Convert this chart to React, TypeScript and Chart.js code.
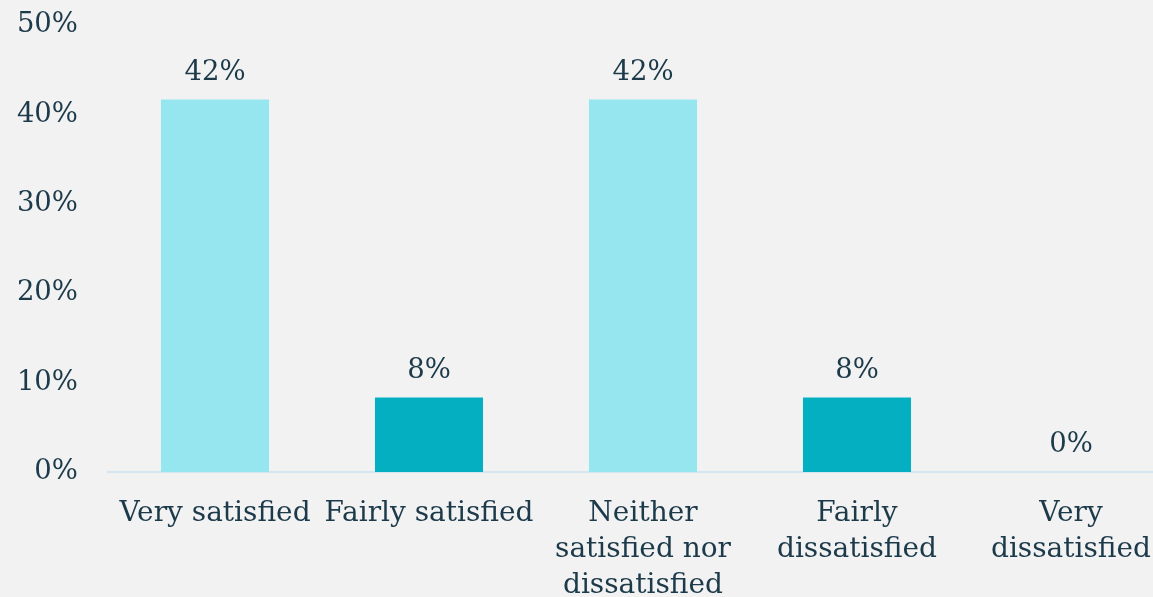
import React, { useEffect, useRef } from "react";
import { Chart, registerables } from "chart.js";

Chart.register(...registerables);

const categories: (string | string[])[] = [
  "Very satisfied",
  "Fairly satisfied",
  ["Neither", "satisfied nor", "dissatisfied"],
  ["Fairly", "dissatisfied"],
  ["Very", "dissatisfied"],
];
const values = [41.67, 8.33, 41.67, 8.33, 0];
const valueLabels = ["42%", "8%", "42%", "8%", "0%"];
const barColors = ["#96e6f0", "#04afc1", "#96e6f0", "#04afc1", "#96e6f0"];
const yTicks = [0, 10, 20, 30, 40, 50];

const TEXT = "#1c3a4a";
const FONT = "'DejaVu Serif', 'Liberation Serif', serif";

const labelPlugin = {
  id: "valueLabels",
  afterDatasetsDraw(chart: any) {
    const ctx = chart.ctx;
    const meta = chart.getDatasetMeta(0);
    ctx.save();
    ctx.fillStyle = TEXT;
    ctx.font = `27.5px ${FONT}`;
    ctx.textAlign = "center";
    ctx.textBaseline = "middle";
    meta.data.forEach((bar: any, i: number) => {
      ctx.fillText(valueLabels[i], bar.x, bar.y - 27);
    });
    ctx.restore();
  },
};

export default function App() {
  const ref = useRef<HTMLCanvasElement>(null);
  useEffect(() => {
    document.body.style.margin = "0";
    document.body.style.background = "#f2f2f2";
    const chart = new Chart(ref.current!, {
      type: "bar",
      data: {
        labels: categories as any,
        datasets: [
          {
            data: values,
            backgroundColor: barColors,
            barPercentage: 0.505,
            categoryPercentage: 1,
          },
        ],
      },
      options: {
        responsive: false,
        animation: false,
        layout: { padding: { top: 25, left: 0, right: 0, bottom: 0 } },
        plugins: { legend: { display: false }, tooltip: { enabled: false } },
        scales: {
          x: {
            grid: { display: false, drawTicks: false },
            border: { display: true, color: "#d6e6f0", width: 2 },
            ticks: {
              color: TEXT,
              font: { family: FONT, size: 28, lineHeight: 1.28 },
              padding: 24,
              maxRotation: 0,
              autoSkip: false,
            },
            afterFit(scale: any) {
              scale.height = 125;
              scale.paddingTop = 0;
              scale.paddingBottom = 0;
              scale.paddingLeft = 0;
              scale.paddingRight = 0;
            },
          },
          y: {
            min: 0,
            max: 50,
            afterBuildTicks(scale: any) {
              scale.ticks = yTicks.map((v) => ({ value: v }));
            },
            grid: { display: false, drawTicks: false },
            border: { display: false },
            ticks: {
              color: TEXT,
              font: { family: FONT, size: 27.5 },
              padding: 30,
              callback: (v: any) => `${v}%`,
            },
            afterFit(scale: any) {
              scale.width = 108;
              scale.paddingTop = 0;
              scale.paddingBottom = 0;
              scale.paddingLeft = 0;
              scale.paddingRight = 0;
            },
          },
        },
      },
      plugins: [labelPlugin],
    });
    return () => chart.destroy();
  }, []);
  return (
    <div
      style={{
        position: "fixed",
        left: 0,
        top: 0,
        width: 1153,
        height: 597,
        overflow: "hidden",
        background: "#f2f2f2",
      }}
    >
      <canvas ref={ref} width={1178} height={597} style={{ display: "block" }} />
    </div>
  );
}
